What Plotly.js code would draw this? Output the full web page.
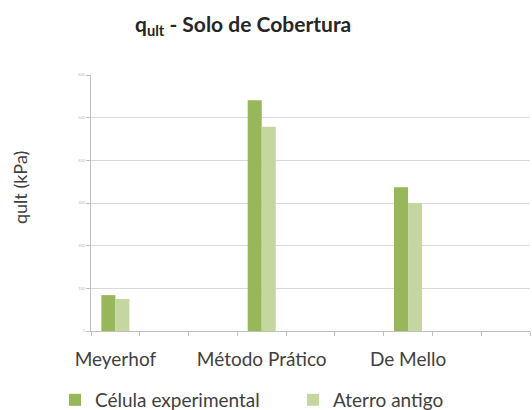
<!DOCTYPE html>
<html>
<head>
<meta charset="utf-8">
<script src="https://cdn.plot.ly/plotly-3.0.1.min.js"></script>
<style>html,body{margin:0;padding:0;background:#fff;}#chart{width:532px;height:410px;}</style>
</head>
<body>
<div id="chart"></div>
<script>
// Categories (Excel-style layout: 9 slots, every third one labelled)
const categories = ["Meyerhof", " ", "  ", "Método Prático", "   ", "    ", "De Mello", "     ", "      "];
const celulaExperimental = [84, null, null, 541, null, null, 337, null, null];
const aterroAntigo = [75, null, null, 479, null, null, 300, null, null];
const seriesNames = ["Célula experimental", "Aterro antigo"];
const yTicks = [0, 100, 200, 300, 400, 500, 600];

const font = "Lato, 'Open Sans', sans-serif";

const traces = [
  {type: "bar", name: seriesNames[0], x: categories, y: celulaExperimental,
   marker: {color: "#97B75A"}},
  {type: "bar", name: seriesNames[1], x: categories, y: aterroAntigo,
   marker: {color: "#C4D7A0"}}
];

const plotW = 439, plotH = 256, marginL = 91, marginT = 75;

const layout = {
  width: 532, height: 410,
  margin: {l: marginL, r: 2, t: marginT, b: 79, autoexpand: false},
  paper_bgcolor: "#fff", plot_bgcolor: "#fff",
  barmode: "group", bargap: 0.425, bargroupgap: 0,
  font: {family: font, color: "#404040"},
  title: {text: "q<sub>ult</sub> - Solo de Cobertura", font: {family: font, size: 21, color: "#262626", weight: "bold"},
          x: 0.457, xanchor: "center", y: 0.94, yanchor: "middle"},
  xaxis: {type: "category", categoryorder: "array", categoryarray: categories,
          range: [-0.5, 8.5], showline: true, linecolor: "#BFBFBF", linewidth: 1,
          ticks: "outside", tickson: "boundaries", ticklen: 4, tickcolor: "#BFBFBF",
          tickangle: 0, ticklabelstandoff: 11, showgrid: false, automargin: false,
          tickfont: {family: font, size: 19, color: "#404040"}, fixedrange: true},
  yaxis: {range: [0, 600], tickvals: yTicks, showline: true, linecolor: "#BFBFBF", linewidth: 1,
          ticks: "outside", ticklen: 4, tickcolor: "#BFBFBF", automargin: false,
          gridcolor: "#D9D9D9", gridwidth: 1, zeroline: false,
          tickfont: {family: font, size: 4, color: "#BBBBBB"}, fixedrange: true},
  showlegend: true,
  legend: {orientation: "h", xref: "paper", x: (55 - marginL) / plotW, xanchor: "left",
           yref: "paper", y: (331 - 400) / plotH, yanchor: "middle",
           entrywidth: 193, entrywidthmode: "pixels", itemwidth: 30,
           font: {family: font, size: 19, color: "#404040"}, bgcolor: "rgba(0,0,0,0)"},
  annotations: [
    {text: "qult (kPa)", xref: "paper", yref: "paper", x: (20 - marginL) / plotW, y: (331 - 188) / plotH,
     xanchor: "center", yanchor: "middle", textangle: -90, showarrow: false,
     font: {family: font, size: 18, color: "#404040"}}
  ]
};

Plotly.newPlot("chart", traces, layout, {displayModeBar: false, staticPlot: true});
</script>
</body>
</html>
